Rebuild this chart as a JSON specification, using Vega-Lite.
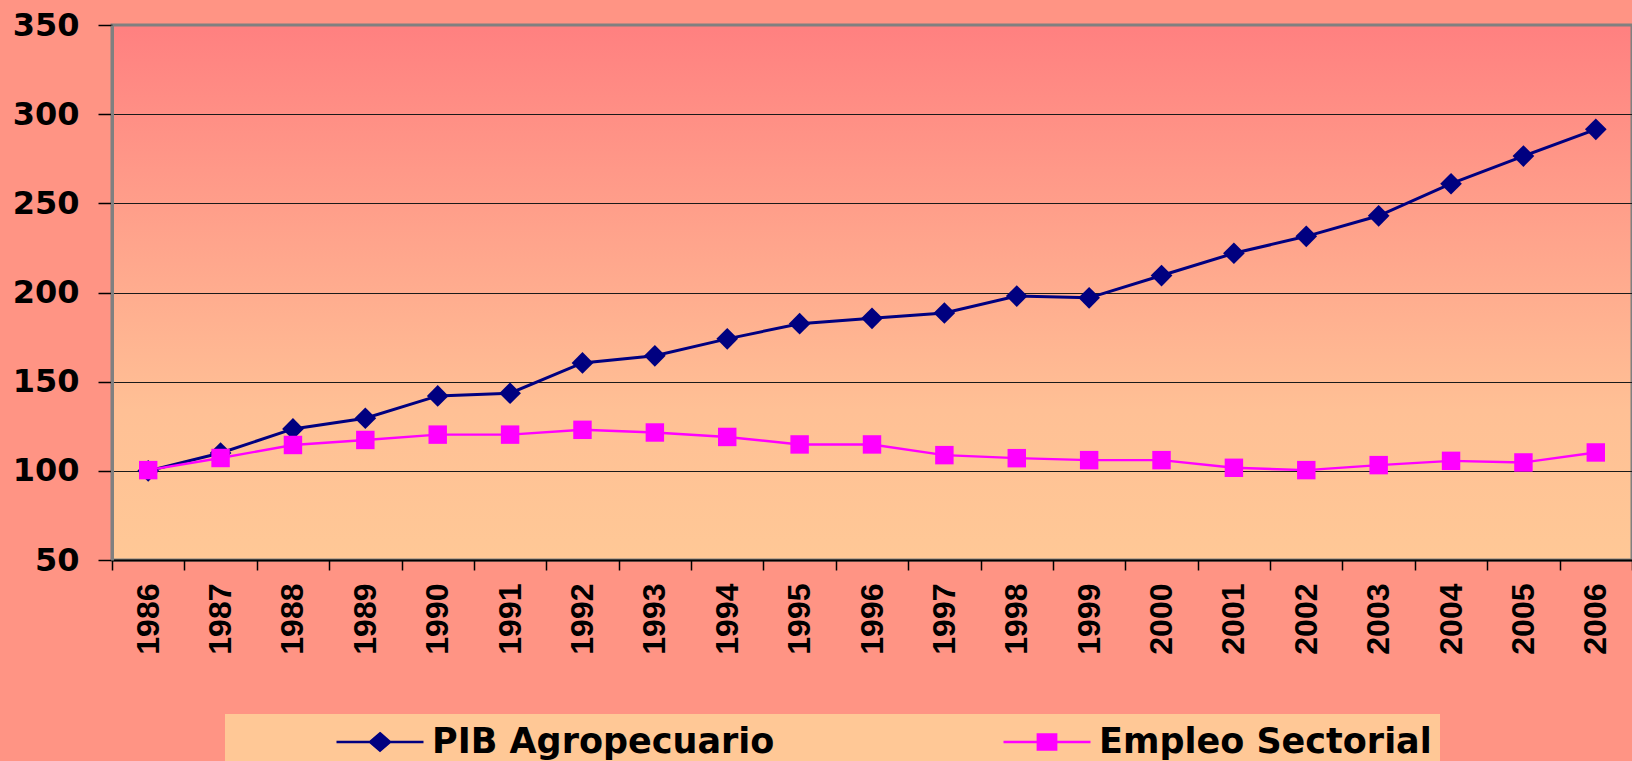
{
  "$schema": "https://vega.github.io/schema/vega-lite/v6.json",
  "width": 1520,
  "height": 535,
  "autosize": "none",
  "padding": {"left": 112, "top": 25, "right": 0, "bottom": 201},
  "background": "#FF9484",
  "view": {
    "fill": {"gradient": "linear", "x1": 0, "y1": 0, "x2": 0, "y2": 1,
      "stops": [{"offset": 0, "color": "#FF8080"}, {"offset": 0.72, "color": "#FFC095"}, {"offset": 1, "color": "#FFC896"}]},
    "stroke": "#808080",
    "strokeWidth": 3
  },
  "data": {"values": [
    {"year": "1986", "series": "PIB Agropecuario", "value": 100},
    {"year": "1987", "series": "PIB Agropecuario", "value": 110},
    {"year": "1988", "series": "PIB Agropecuario", "value": 123.5},
    {"year": "1989", "series": "PIB Agropecuario", "value": 129.5},
    {"year": "1990", "series": "PIB Agropecuario", "value": 142},
    {"year": "1991", "series": "PIB Agropecuario", "value": 143.5},
    {"year": "1992", "series": "PIB Agropecuario", "value": 160.5},
    {"year": "1993", "series": "PIB Agropecuario", "value": 164.5},
    {"year": "1994", "series": "PIB Agropecuario", "value": 174},
    {"year": "1995", "series": "PIB Agropecuario", "value": 182.5},
    {"year": "1996", "series": "PIB Agropecuario", "value": 185.5},
    {"year": "1997", "series": "PIB Agropecuario", "value": 188.5},
    {"year": "1998", "series": "PIB Agropecuario", "value": 198},
    {"year": "1999", "series": "PIB Agropecuario", "value": 197},
    {"year": "2000", "series": "PIB Agropecuario", "value": 209.5},
    {"year": "2001", "series": "PIB Agropecuario", "value": 222},
    {"year": "2002", "series": "PIB Agropecuario", "value": 231.5},
    {"year": "2003", "series": "PIB Agropecuario", "value": 243},
    {"year": "2004", "series": "PIB Agropecuario", "value": 261},
    {"year": "2005", "series": "PIB Agropecuario", "value": 276.5},
    {"year": "2006", "series": "PIB Agropecuario", "value": 291.5},
    {"year": "1986", "series": "Empleo Sectorial", "value": 100.4},
    {"year": "1987", "series": "Empleo Sectorial", "value": 107.2},
    {"year": "1988", "series": "Empleo Sectorial", "value": 114.5},
    {"year": "1989", "series": "Empleo Sectorial", "value": 117.3},
    {"year": "1990", "series": "Empleo Sectorial", "value": 120.3},
    {"year": "1991", "series": "Empleo Sectorial", "value": 120.3},
    {"year": "1992", "series": "Empleo Sectorial", "value": 123},
    {"year": "1993", "series": "Empleo Sectorial", "value": 121.5},
    {"year": "1994", "series": "Empleo Sectorial", "value": 119},
    {"year": "1995", "series": "Empleo Sectorial", "value": 114.8},
    {"year": "1996", "series": "Empleo Sectorial", "value": 114.8},
    {"year": "1997", "series": "Empleo Sectorial", "value": 108.8},
    {"year": "1998", "series": "Empleo Sectorial", "value": 107.1},
    {"year": "1999", "series": "Empleo Sectorial", "value": 106},
    {"year": "2000", "series": "Empleo Sectorial", "value": 106},
    {"year": "2001", "series": "Empleo Sectorial", "value": 101.7},
    {"year": "2002", "series": "Empleo Sectorial", "value": 100.4},
    {"year": "2003", "series": "Empleo Sectorial", "value": 103.2},
    {"year": "2004", "series": "Empleo Sectorial", "value": 105.6},
    {"year": "2005", "series": "Empleo Sectorial", "value": 104.7},
    {"year": "2006", "series": "Empleo Sectorial", "value": 110.3}
  ]},
  "encoding": {
    "x": {
      "field": "year", "type": "ordinal",
      "scale": {"type": "band", "paddingInner": 0, "paddingOuter": 0},
      "axis": {
        "title": null, "labelAngle": -90, "labelAlign": "right", "labelBaseline": "middle",
        "labelFont": "Liberation Sans", "labelFontWeight": "bold", "labelFontSize": 32, "labelColor": "#000000",
        "labelPadding": 13, "tickBand": "extent", "tickSize": 10, "tickColor": "#000000", "tickWidth": 1.5,
        "domainColor": "#000000", "domainWidth": 2, "grid": false
      }
    },
    "y": {
      "field": "value", "type": "quantitative",
      "scale": {"domain": [50, 350], "nice": false, "zero": false},
      "axis": {
        "title": null, "values": [50, 100, 150, 200, 250, 300, 350],
        "labelFont": "DejaVu Sans", "labelFontWeight": "bold", "labelFontSize": 32, "labelColor": "#000000",
        "labelPadding": 19, "tickSize": 14, "tickColor": "#000000", "tickWidth": 1.5,
        "domainColor": "#808080", "domainWidth": 3,
        "grid": true, "gridWidth": 1.2,
        "gridColor": {"condition": {"test": "datum.value == 50 || datum.value == 350", "value": "transparent"}, "value": "#1a1a1a"}
      }
    }
  },
  "layer": [
    {
      "mark": {"type": "line"},
      "encoding": {
        "color": {"field": "series", "type": "nominal", "scale": {"domain": ["PIB Agropecuario", "Empleo Sectorial"], "range": ["#000080", "#FF00FF"]}, "legend": null},
        "strokeWidth": {"field": "series", "type": "nominal", "scale": {"domain": ["PIB Agropecuario", "Empleo Sectorial"], "range": [3, 2.4]}, "legend": null}
      }
    },
    {
      "mark": {"type": "point", "filled": true, "opacity": 1},
      "encoding": {
        "color": {"field": "series", "type": "nominal", "legend": null},
        "shape": {"field": "series", "type": "nominal", "scale": {"domain": ["PIB Agropecuario", "Empleo Sectorial"], "range": ["diamond", "square"]}, "legend": null},
        "size": {"field": "series", "type": "nominal", "scale": {"domain": ["PIB Agropecuario", "Empleo Sectorial"], "range": [470, 340]}, "legend": null}
      }
    },
    {
      "transform": [{"filter": "false"}],
      "mark": {"type": "point", "filled": true, "opacity": 1, "strokeWidth": 2.5, "size": 7569},
      "encoding": {
        "fill": {"field": "series", "type": "nominal", "scale": {"domain": ["PIB Agropecuario", "Empleo Sectorial"], "range": ["#000080", "#FF00FF"]}},
        "stroke": {"field": "series", "type": "nominal", "scale": {"domain": ["PIB Agropecuario", "Empleo Sectorial"], "range": ["#000080", "#FF00FF"]}},
        "shape": {
          "field": "series", "type": "nominal",
          "scale": {"domain": ["PIB Agropecuario", "Empleo Sectorial"], "range": ["M-1,0H1M0,-0.2L0.23,0L0,0.2L-0.23,0Z", "M-1,0H1M-0.21,-0.17H0.21V0.17H-0.21Z"]},
          "legend": {
            "title": null,
            "orient": "none", "legendX": 113, "legendY": 689, "direction": "horizontal",
            "fillColor": "#FFC896", "padding": 8, "clipHeight": 40,
            "labelFont": "DejaVu Sans", "labelFontWeight": "bold", "labelFontSize": 35, "labelColor": "#000000",
            "labelLimit": 0, "labelOffset": 7, "columnPadding": 125, "symbolOffset": 102,
            "symbolSize": 7569, "symbolStrokeWidth": 2.5, "symbolOpacity": 1
          }
        }
      }
    }
  ],
  "resolve": {"scale": {"shape": "independent", "fill": "independent", "stroke": "independent"}}
}
